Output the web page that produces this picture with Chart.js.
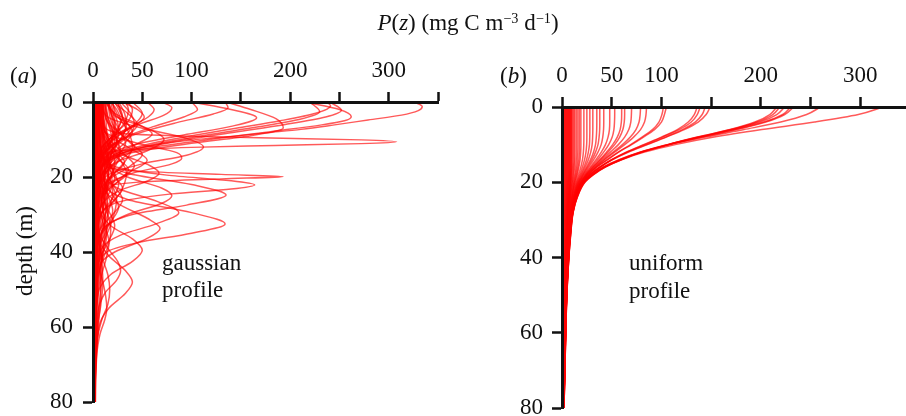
<!DOCTYPE html>
<html>
<head>
<meta charset="utf-8">
<script src="https://cdn.jsdelivr.net/npm/chart.js@4.4.1/dist/chart.umd.min.js"></script>
<style>
  html, body { margin: 0; padding: 0; background: #fff; overflow: hidden; }
  body { width: 906px; height: 416px; position: relative; font-family: "Liberation Serif", "Times New Roman", serif; color: #111; }
  canvas { position: absolute; top: 0; }
  #chartA { left: 0; }
  #chartB { left: 453px; }
  .txt { position: absolute; font-size: 23px; line-height: 1; white-space: nowrap; }
  .sup { position: relative; top: -0.5em; font-size: 0.62em; }
</style>
</head>
<body>
<canvas id="chartA" width="453" height="416"></canvas>
<canvas id="chartB" width="470" height="416"></canvas>

<div class="txt" style="left:468px; top:11px; transform:translateX(-50%);"><i>P</i>(<i>z</i>) (mg C m<span class="sup">−3</span> d<span class="sup">−1</span>)</div>
<div class="txt" style="left:10px; top:64px;">(<i>a</i>)</div>
<div class="txt" style="left:500px; top:64px;">(<i>b</i>)</div>
<div class="txt" style="left:24px; top:251px; transform:translate(-50%,-50%) rotate(-90deg);">depth (m)</div>
<div class="txt" style="left:162px; top:251px;">gaussian</div>
<div class="txt" style="left:162px; top:278px;">profile</div>
<div class="txt" style="left:629px; top:251px;">uniform</div>
<div class="txt" style="left:629px; top:279px;">profile</div>

<script>
// axis ticks
var xTicks = [0, 50, 100, 150, 200, 250, 300, 350];
var xLabels = [0, 50, 100, 200, 300];
var depthTicks = [0, 20, 40, 60, 80];

// (a) gaussian profiles: [depth (m), P (mg C m-3 d-1)]
var gaussianProfiles = [
  [[0,326],[1.2,334],[2.3,330],[3.5,313],[4.8,279],[6.1,245],[7.3,211],[8.2,177],[9.1,143],[9.9,109],[11,75],[12.5,45],[14,25],[16,12],[20,5],[30,2],[45,1.5],[80,1.2]],
  [[0,215],[2,250],[3.9,262],[5,255],[6.1,232],[7.9,180],[10,118],[12,62],[14,30],[17,11],[22,4],[30,2],[80,1.2]],
  [[0,240],[2.2,252],[4,236],[6,195],[8,145],[10,95],[12,52],[15,18],[20,5],[30,2],[80,1.2]],
  [[0,237],[1,241],[3,226],[5,190],[7,145],[9,100],[11,60],[14,22],[18,7],[25,2.5],[80,1.2]],
  [[0,220],[2.6,230],[4.6,210],[6.6,168],[8.6,120],[10.6,75],[13,36],[17,10],[24,3],[80,1.2]],
  [[0,10],[6,11],[8.4,30],[9.1,95],[9.6,180],[10.1,272],[10.6,308],[11.1,272],[11.6,185],[12.1,100],[12.8,36],[14,12],[20,5],[30,2],[80,1.2]],
  [[0,6],[10,8],[17,12],[18.5,50],[19.3,130],[19.9,193],[20.5,130],[21.3,50],[23,14],[30,4],[45,2],[80,1.2]],
  [[0,5],[12,8],[17,20],[19.5,75],[21,140],[22.1,164],[23.2,140],[24.5,80],[27,22],[32,6],[45,2],[80,1.2]],
  [[0,4],[14,10],[19,35],[22,100],[24.8,135],[27.5,95],[30,40],[34,10],[42,3],[80,1.2]],
  [[0,3],[20,8],[26,35],[29.5,100],[32.5,134],[35,100],[37.5,45],[40,14],[46,4],[80,1.2]],
  [[0,8],[4,15],[7,50],[9.7,95],[12,112],[14.2,95],[16.5,50],[19.5,15],[25,4],[40,2],[80,1.2]],
  [[0,135],[2,160],[4.5,186],[6.9,193],[9,160],[11,100],[13.5,40],[17,10],[25,3],[80,1.2]],
  [[0,100],[2,140],[4.2,166],[6.5,140],[8.8,92],[11.2,45],[14,16],[18,5],[80,1.2]],
  [[0,134],[1.5,137],[3.2,122],[5.5,85],[8,50],[11,22],[15,8],[22,3],[80,1.2]],
  [[0,100],[2,106],[4,92],[6.5,62],[9,36],[12,16],[16,6],[80,1.2]],
  [[0,6],[10,12],[14,30],[17,58],[19,67],[21,56],[23.5,28],[27,10],[35,3],[80,1.2]],
  [[0,4],[18,8],[23,25],[26.5,65],[29.5,87],[32.5,64],[35.5,28],[39,9],[48,3],[80,1.2]],
  [[0,3],[28,6],[33,18],[36.5,40],[39.5,50],[42.5,40],[46,18],[51,5],[60,2.5],[80,1.5]],
  [[0,5],[15,10],[20,35],[23,70],[25,80],[27,70],[30,35],[34,10],[45,3],[80,1.2]],
  [[0,2],[35,4],[42,10],[46,15],[50,17],[54,15],[58,9],[64,4],[80,1.8]],
  [[0,2],[42,4],[48,10],[52,13],[55,14],[58,12],[62,7],[68,3.5],[80,1.8]],
  [[0,2],[34,5],[39,15],[42.5,25],[45,28],[47.5,24],[51,12],[56,5],[80,1.8]],
  [[0,15],[3,22],[6,46],[8.5,60],[11,46],[14,22],[18,8],[80,1.2]],
  [[0,6],[8,12],[11,45],[13.5,85],[15,90],[16.5,80],[19,40],[23,10],[30,3],[80,1.2]],
  [[0,3],[20,6],[27,25],[31,55],[33.7,68],[36.5,54],[40,22],[44,6],[80,1.2]],
  [[0,2],[36,5],[41,16],[45,33],[48,40],[51,33],[55,16],[60,6],[80,1.8]],
  [[0,20],[3,35],[6,45],[9,35],[12,18],[16,6],[25,2.5],[80,1.2]],
  [[0,10],[5,14],[9,30],[12,42],[15,30],[19,12],[25,4],[80,1.2]],
  [[0,8],[10,12],[15,25],[18,36],[21,26],[25,10],[32,3],[80,1.2]],
  [[0,5],[14,8],[20,22],[23,30],[26,22],[30,8],[38,3],[80,1.2]],
  [[0,4],[18,6],[24,18],[28,26],[32,18],[36,7],[45,3],[80,1.2]],
  [[0,30],[2,45],[4,52],[6,44],[9,25],[13,9],[20,3],[80,1.2]],
  [[0,12],[4,25],[7,38],[10,28],[13,14],[18,5],[80,1.2]],
  [[0,55],[2,62],[4,56],[7,35],[10,16],[14,6],[80,1.2]],
  [[0,70],[1.5,80],[3.5,72],[6,46],[9,22],[13,8],[80,1.2]],
  [[0,15],[6,20],[11,38],[14,50],[17,38],[21,15],[28,4],[80,1.2]],
  [[0,6],[8,10],[13,22],[16,32],[19,22],[23,8],[30,3],[80,1.2]],
  [[0,3],[20,5],[28,14],[33,22],[38,14],[43,5],[55,2.5],[80,1.5]],
  [[0,2],[25,4],[32,10],[37,16],[42,10],[47,4],[60,2],[80,1.5]],
  [[0,40],[3,50],[6,42],[9,26],[13,10],[18,4],[80,1.2]],
  [[0,25],[4,30],[8,40],[11,32],[14,18],[19,6],[80,1.2]],
  [[0,8],[9,14],[14,32],[17,42],[20,32],[24,12],[30,3],[80,1.2]],
  [[0,4],[15,8],[22,20],[26,30],[30,20],[34,7],[42,3],[80,1.2]],
  [[0,3],[30,3],[50,2.5],[80,1.8]],
  [[0,1],[40,1],[80,1]],
  [[0,18],[5,22],[10,24],[15,20],[20,12],[28,4],[80,1.2]],
  [[0,14],[4,24],[7,55],[10,72],[13,55],[16,24],[20,8],[80,1.2]],
  [[0,8],[8,12],[12,35],[15.5,55],[19,35],[23,12],[30,3],[80,1.2]],
  [[0,22],[3,28],[7,33],[10,28],[14,16],[19,6],[80,1.2]],
  [[0,12],[6,16],[10,24],[13,28],[16,22],[20,10],[27,3],[80,1.2]],
  [[0,9],[12,12],[18,20],[22,26],[26,19],[30,8],[38,3],[80,1.2]],
  [[0,6],[16,8],[24,14],[29,20],[34,14],[39,6],[50,2.5],[80,1.5]],
  [[0,35],[2,40],[5,36],[8,24],[12,10],[17,4],[80,1.2]],
  [[0,16],[4,20],[8,28],[11,33],[14,26],[18,12],[24,4],[80,1.2]],
  [[0,7],[10,9],[16,16],[20,22],[24,17],[28,8],[36,3],[80,1.2]],
  [[0,5],[20,6],[28,10],[35,14],[41,10],[47,5],[58,2.5],[80,1.5]],
  [[0,4],[30,5],[40,8],[48,10],[54,8],[60,4.5],[70,2.5],[80,1.8]],
  [[0,28],[3,38],[6,42],[9,36],[12,22],[16,9],[22,3],[80,1.2]],
  [[0,10],[4,13],[8,18],[12,20],[16,16],[20,9],[28,3],[80,1.2]],
  [[0,3],[10,4],[20,5],[30,5],[40,4],[55,3],[70,2.5],[80,2]],
  [[0,4],[6,6],[12,9],[18,12],[24,10],[32,6],[45,3],[80,1.5]],
  [[0,7],[5,9],[10,14],[15,18],[20,15],[27,8],[40,3],[80,1.2]],
  [[0,11],[4,15],[8,20],[12,17],[17,10],[25,5],[45,2],[80,1]],
  [[0,14],[3,18],[6,22],[10,19],[15,11],[22,5],[40,2],[80,1]],
  [[0,18],[2,24],[5,28],[8,24],[12,14],[18,6],[35,2],[80,1]],
  [[0,24],[2,28],[4,30],[7,25],[11,14],[16,6],[30,2],[80,1]],
  [[0,5],[10,7],[18,10],[25,15],[31,12],[38,7],[50,3],[80,1.5]],
  [[0,3],[15,5],[25,8],[33,12],[40,10],[48,6],[60,3],[80,1.5]],
  [[0,2],[20,3],[35,6],[44,9],[52,7],[60,4],[70,2.5],[80,2]],
  [[0,6],[8,9],[14,13],[20,16],[26,12],[33,6],[45,2.5],[80,1.2]],
  [[0,9],[6,12],[12,18],[16,22],[21,17],[27,9],[38,3],[80,1.2]],
  [[0,13],[5,16],[10,24],[14,27],[18,21],[24,11],[34,4],[80,1.2]],
  [[0,16],[4,19],[9,22],[13,20],[18,13],[25,6],[40,2],[80,1]],
  [[0,20],[3,22],[7,26],[11,24],[15,16],[21,7],[32,3],[80,1]],
  [[0,3],[25,4],[38,6],[50,8],[58,6],[66,3.5],[80,2]],
  [[0,2],[30,3],[45,4],[55,5],[63,4.5],[72,3],[80,2.5]],
  [[0,8],[10,10],[20,12],[28,11],[36,8],[46,4],[60,2],[80,1.2]],
  [[0,12],[8,14],[15,16],[22,14],[30,9],[40,4],[80,1.2]],
  [[0,26],[3,32],[6,34],[9,30],[13,18],[18,8],[28,3],[80,1]],
  [[0,33],[2,36],[5,33],[9,22],[14,10],[20,4],[80,1]],
  [[0,4],[12,5],[22,9],[28,13],[34,11],[40,7],[50,3],[80,1.5]],
  [[0,6],[14,8],[22,12],[30,15],[37,12],[44,7],[56,3],[80,1.5]],
  [[0,10],[10,12],[18,18],[24,20],[29,16],[35,9],[46,3],[80,1.2]],
  [[0,5],[5,7],[10,11],[14,15],[18,13],[24,7],[35,3],[80,1.2]],
  [[0,2],[10,2.5],[20,3],[30,3.5],[40,3.5],[55,3],[70,2.5],[80,2]],
  [[0,1.5],[20,2],[40,2.5],[60,2],[80,1.5]],
  [[0,19],[4,26],[8,36],[12,40],[16,32],[21,15],[30,5],[80,1.2]],
  [[0,9],[8,13],[14,24],[19,34],[24,28],[29,14],[38,5],[80,1.2]],
  [[0,7],[12,10],[20,16],[26,24],[32,19],[38,10],[48,4],[80,1.5]],
  [[0,5],[16,7],[26,11],[34,18],[41,14],[48,7],[58,3],[80,1.5]]
];

// (b) uniform profiles, one row per curve, values at depthsB
var depthsB = [0, 2, 4, 6, 8, 10, 12, 14, 16, 18, 20, 24, 28, 34, 40, 50, 60, 80];
var uniformProfiles = [
  [323, 298, 254, 201, 153, 114, 83, 60, 43, 31, 22.5, 15, 11, 8.5, 6.8, 4.8, 3.8, 2],
  [260, 246, 220, 183, 144, 109, 81, 60, 43.5, 31.5, 23, 15.3, 11.2, 8.7, 6.9, 4.9, 3.8, 2],
  [233, 224, 205, 176, 141, 108, 79, 57.5, 41, 29.8, 21.6, 14.5, 10.7, 8.3, 6.6, 4.7, 3.6, 1.9],
  [230, 222, 203, 174, 139, 107, 80, 59, 42.5, 30.9, 22.4, 15, 11, 8.5, 6.8, 4.8, 3.7, 2],
  [224, 216, 199, 171, 138, 107, 80, 60, 43.5, 31.8, 23, 15.4, 11.2, 8.7, 6.9, 4.9, 3.8, 2],
  [219, 212, 196, 170, 137, 106, 78, 57.5, 41.5, 30, 21.8, 14.6, 10.8, 8.3, 6.6, 4.7, 3.6, 1.9],
  [216, 209, 194, 169, 136, 106, 79, 59, 42.4, 30.8, 22.3, 15, 11, 8.5, 6.8, 4.8, 3.7, 2],
  [149, 145, 137, 123, 105, 86, 67, 51, 38.5, 28.5, 21, 14.3, 10.6, 8.2, 6.6, 4.7, 3.6, 1.9],
  [144, 141, 134, 121, 104, 85, 66, 50.5, 38.3, 28.4, 21, 14.3, 10.6, 8.2, 6.6, 4.7, 3.6, 1.9],
  [139, 136, 130, 118, 101, 83, 65, 50, 38, 28.2, 20.9, 14.2, 10.5, 8.1, 6.5, 4.6, 3.5, 1.8],
  [136, 133, 127, 116, 100, 82, 64.5, 49.8, 37.9, 28.1, 20.8, 14.2, 10.5, 8.1, 6.5, 4.6, 3.5, 1.8],
  [105, 103, 100, 93, 82, 70, 57, 46, 35, 27, 20.3, 14, 10.4, 8.1, 6.5, 4.6, 3.5, 1.8],
  [102, 100.5, 97.5, 91, 80.5, 69, 56.5, 45.5, 35, 26.8, 20.2, 13.9, 10.4, 8.1, 6.5, 4.6, 3.5, 1.8],
  [85, 84.5, 83, 79, 72, 63, 53, 43, 33.7, 26, 19.8, 13.5, 10.2, 8, 6.5, 4.6, 3.5, 1.8],
  [79, 78.6, 77.5, 74.4, 68.7, 60.8, 51.4, 42, 33.2, 25.6, 19.6, 13.5, 10.2, 8, 6.5, 4.6, 3.5, 1.8],
  [70, 69.8, 69.2, 67.2, 63, 56.7, 48.6, 40.3, 32.1, 25, 19.3, 13.4, 10.1, 8, 6.4, 4.6, 3.5, 1.8],
  [63, 63, 62.6, 61.2, 58, 53, 46.2, 38.7, 31.2, 24.5, 18.9, 13.3, 10.1, 8, 6.4, 4.6, 3.5, 1.8],
  [60, 60, 59.7, 58.5, 55.6, 51, 44.8, 37.9, 30.7, 24.2, 18.8, 13.2, 10, 7.9, 6.4, 4.6, 3.5, 1.8],
  [53, 53, 52.8, 52.2, 50.5, 47, 41.9, 35.9, 29.5, 23.5, 18.3, 13, 9.9, 7.8, 6.3, 4.5, 3.4, 1.8],
  [48, 48, 48, 47.7, 46.3, 43.7, 39.5, 34.2, 28.4, 22.8, 17.9, 12.8, 9.8, 7.7, 6.3, 4.5, 3.4, 1.8],
  [42, 42, 42, 41.8, 41, 39.4, 36.2, 31.9, 26.9, 21.9, 17.4, 12.6, 9.7, 7.6, 6.2, 4.5, 3.4, 1.8],
  [38, 38, 38, 37.9, 37.3, 36.2, 33.7, 30.2, 25.7, 21.2, 17, 12.4, 9.6, 7.6, 6.2, 4.5, 3.4, 1.8],
  [35, 35, 35, 34.9, 34.5, 33.7, 31.7, 28.7, 24.7, 20.6, 16.6, 12.2, 9.5, 7.5, 6.1, 4.4, 3.4, 1.8],
  [31, 31, 31, 31, 30.8, 30.3, 28.9, 26.5, 23.2, 19.6, 16, 11.8, 9.2, 7.3, 6, 4.4, 3.3, 1.7],
  [28, 28, 28, 28, 27.9, 27.6, 26.5, 24.7, 22, 18.8, 15.5, 11.6, 9.1, 7.2, 6, 4.4, 3.3, 1.7],
  [25, 25, 25, 25, 25, 24.8, 24.1, 22.7, 20.5, 17.8, 14.8, 11.3, 8.9, 7.1, 5.9, 4.4, 3.3, 1.7],
  [22, 22, 22, 22, 22, 21.9, 21.5, 20.6, 18.9, 16.6, 14.1, 10.9, 8.7, 7, 5.8, 4.3, 3.3, 1.7],
  [19, 19, 19, 19, 19, 19, 18.8, 18.2, 17, 15.3, 13.2, 10.4, 8.4, 6.8, 5.6, 4.2, 3.2, 1.7],
  [17.5, 17.5, 17.5, 17.5, 17.5, 17.5, 17.4, 17, 16, 14.6, 12.7, 10.1, 8.2, 6.7, 5.5, 4.1, 3.2, 1.7],
  [16, 16, 16, 16, 16, 16, 15.9, 15.6, 14.9, 13.7, 12.1, 9.8, 8.1, 6.6, 5.5, 4.1, 3.2, 1.7],
  [14.5, 14.5, 14.5, 14.5, 14.5, 14.5, 14.5, 14.3, 13.8, 12.9, 11.5, 9.4, 7.8, 6.4, 5.4, 4, 3.1, 1.7],
  [13, 13, 13, 13, 13, 13, 13, 12.9, 12.5, 11.8, 10.7, 8.8, 7.4, 6.1, 5.2, 3.9, 3.1, 1.6],
  [12, 12, 12, 12, 12, 12, 12, 12, 11.7, 11.1, 10.2, 8.5, 7.2, 6, 5.1, 3.9, 3, 1.6],
  [11, 11, 11, 11, 11, 11, 11, 11, 10.8, 10.3, 9.6, 8.2, 7, 5.9, 5, 3.8, 3, 1.6],
  [10, 10, 10, 10, 10, 10, 10, 10, 9.9, 9.5, 9, 7.8, 6.7, 5.7, 4.9, 3.8, 3, 1.6],
  [9.5, 9.5, 9.5, 9.5, 9.5, 9.5, 9.5, 9.5, 9.5, 9.2, 8.7, 7.5, 6.5, 5.5, 4.8, 3.7, 2.9, 1.6],
  [9, 9, 9, 9, 9, 9, 9, 9, 8.9, 8.7, 8.3, 7.2, 6.2, 5.3, 4.6, 3.6, 2.9, 1.5],
  [8.5, 8.5, 8.5, 8.5, 8.5, 8.5, 8.5, 8.5, 8.5, 8.3, 8, 7, 6.1, 5.2, 4.5, 3.6, 2.9, 1.5],
  [8, 8, 8, 8, 8, 8, 8, 8, 8, 7.8, 7.5, 6.7, 5.9, 5.1, 4.4, 3.5, 2.8, 1.5],
  [7.5, 7.5, 7.5, 7.5, 7.5, 7.5, 7.5, 7.5, 7.5, 7.4, 7.1, 6.4, 5.7, 5, 4.4, 3.5, 2.8, 1.5],
  [7, 7, 7, 7, 7, 7, 7, 7, 7, 6.9, 6.7, 6.1, 5.5, 4.9, 4.3, 3.4, 2.8, 1.5],
  [6.5, 6.5, 6.5, 6.5, 6.5, 6.5, 6.5, 6.5, 6.5, 6.5, 6.3, 5.8, 5.3, 4.7, 4.2, 3.3, 2.8, 1.5],
  [6, 6, 6, 6, 6, 6, 6, 6, 6, 6, 5.8, 5.4, 5, 4.5, 4, 3.2, 2.7, 1.5],
  [5.5, 5.5, 5.5, 5.5, 5.5, 5.5, 5.5, 5.5, 5.5, 5.5, 5.4, 5.1, 4.7, 4.3, 3.9, 3.2, 2.7, 1.5],
  [5, 5, 5, 5, 5, 5, 5, 5, 5, 5, 4.9, 4.7, 4.4, 4.1, 3.7, 3.1, 2.6, 1.4],
  [4.5, 4.5, 4.5, 4.5, 4.5, 4.5, 4.5, 4.5, 4.5, 4.5, 4.5, 4.3, 4.1, 3.8, 3.5, 3, 2.5, 1.4],
  [4, 4, 4, 4, 4, 4, 4, 4, 4, 4, 4, 3.9, 3.7, 3.5, 3.2, 2.8, 2.3, 1.4],
  [3.5, 3.5, 3.5, 3.5, 3.5, 3.5, 3.5, 3.5, 3.5, 3.5, 3.5, 3.4, 3.3, 3.2, 3, 2.6, 2.2, 1.4],
  [3, 3, 3, 3, 3, 3, 3, 3, 3, 3, 3, 2.9, 2.8, 2.8, 2.6, 2.3, 2, 1.3],
  [2.5, 2.5, 2.5, 2.5, 2.5, 2.5, 2.5, 2.5, 2.5, 2.5, 2.5, 2.5, 2.4, 2.4, 2.3, 2.1, 1.8, 1.2],
  [2, 2, 2, 2, 2, 2, 2, 2, 2, 2, 2, 2, 2, 1.9, 1.9, 1.7, 1.5, 1.1],
  [1.5, 1.5, 1.5, 1.5, 1.5, 1.5, 1.5, 1.5, 1.5, 1.5, 1.5, 1.5, 1.5, 1.5, 1.5, 1.4, 1.3, 1],
  [1, 1, 1, 1, 1, 1, 1, 1, 1, 1, 1, 1, 1, 1, 1, 1, 0.9, 0.7]
];

var LINE_COLOR = 'rgba(255, 0, 0, 0.65)';
var INK = '#111';
var FONT = { family: '"Liberation Serif", "Times New Roman", serif', size: 23 };

function makePanel(canvasId, datasets, g) {
  return new Chart(document.getElementById(canvasId), {
    type: 'line',
    data: { datasets: datasets },
    options: {
      responsive: false,
      animation: false,
      devicePixelRatio: 1,
      indexAxis: 'y',
      layout: { padding: { left: 0, top: 0, right: g.padRight, bottom: g.padBottom } },
      plugins: { legend: { display: false }, tooltip: { enabled: false } },
      elements: {
        point: { radius: 0 },
        line: { borderWidth: 1.5, borderColor: LINE_COLOR, cubicInterpolationMode: 'monotone', fill: false }
      },
      scales: {
        x: {
          type: 'linear', position: 'top', min: 0, max: 350,
          afterFit: function (s) { s.height = g.top; s.paddingLeft = 0; s.paddingRight = 0; },
          afterBuildTicks: function (s) { s.ticks = xTicks.map(function (v) { return { value: v }; }); },
          ticks: {
            autoSkip: false, maxRotation: 0, padding: 7, color: INK, font: FONT,
            callback: function (v) { return xLabels.indexOf(v) >= 0 ? String(v) : ''; }
          },
          grid: { drawOnChartArea: false, tickLength: 10, tickWidth: 2.5, tickColor: INK },
          border: { color: INK, width: 3, z: 1 }
        },
        y: {
          type: 'linear', reverse: true, min: 0, max: 80,
          afterFit: function (s) { s.width = g.left; s.paddingTop = 0; s.paddingBottom = 0; },
          afterBuildTicks: function (s) { s.ticks = depthTicks.map(function (v) { return { value: v }; }); },
          ticks: { autoSkip: false, padding: g.yPad, color: INK, font: FONT },
          grid: { drawOnChartArea: false, tickLength: 10, tickWidth: 2.5, tickColor: INK },
          border: { color: INK, width: 3, z: 1 }
        }
      }
    }
  });
}

var setA = gaussianProfiles.map(function (c) {
  return { data: c.map(function (pt) { return { x: pt[1], y: pt[0] }; }) };
});
var setB = uniformProfiles.map(function (row) {
  return { data: row.map(function (p, i) { return { x: p, y: depthsB[i] }; }) };
});

makePanel('chartA', setA, { left: 93, top: 102, padRight: 15, padBottom: 14, yPad: 10 });
makePanel('chartB', setB, { left: 109, top: 107, padRight: 13, padBottom: 8, yPad: 9 });
</script>
</body>
</html>
